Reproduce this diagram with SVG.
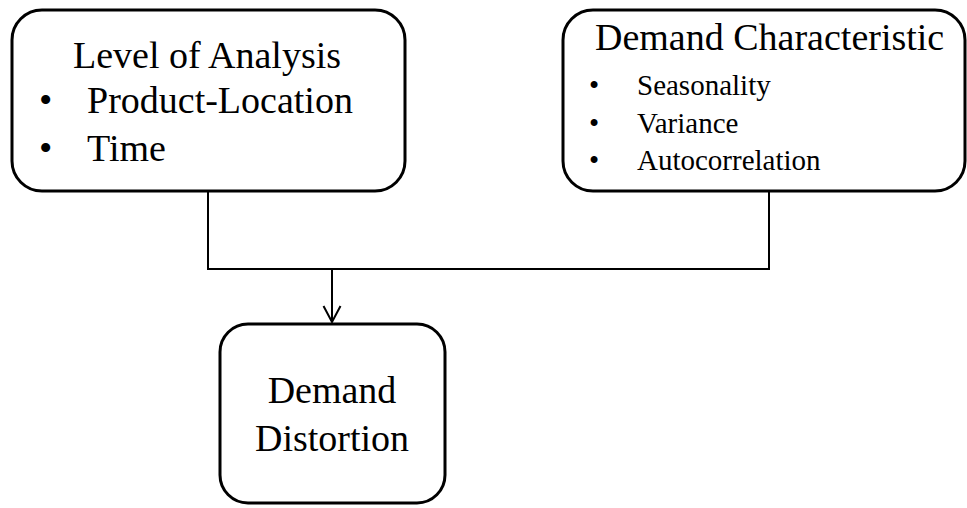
<svg xmlns="http://www.w3.org/2000/svg" width="967" height="508" viewBox="0 0 967 508">
<style>
.box{fill:#fff;stroke:#000;stroke-width:3}
.t{font-family:"Liberation Serif","Times New Roman",serif;fill:#000}
.big{font-size:38px}
.small{font-size:29px}
.conn{fill:none;stroke:#000;stroke-width:2}
</style>
<defs>
<marker id="arr" viewBox="0 0 20 20" refX="18" refY="10" markerWidth="20" markerHeight="20" markerUnits="userSpaceOnUse" orient="auto">
<path d="M2,1.5 L18,10 L2,18.5" fill="none" stroke="#000" stroke-width="2"/>
</marker>
</defs>
<rect width="967" height="508" fill="#fff"/>
<g id="connectors">
<path class="conn" d="M208,192 V269 H769 V192"/>
<path class="conn" d="M332,269 V322" marker-end="url(#arr)"/>
</g>
<g id="level-of-analysis">
<rect class="box" x="12" y="10" width="393" height="181" rx="30" ry="30"/>
<text class="t big" x="73" y="68">Level of Analysis</text>
<text class="t big" x="39" y="113">•</text>
<text class="t big" x="87" y="113">Product-Location</text>
<text class="t big" x="39" y="161">•</text>
<text class="t big" x="87" y="161">Time</text>
</g>
<g id="demand-characteristic">
<rect class="box" x="563" y="10" width="402" height="181" rx="30" ry="30"/>
<text class="t big" x="595" y="50">Demand Characteristic</text>
<text class="t small" x="589" y="95">•</text>
<text class="t small" x="637" y="95">Seasonality</text>
<text class="t small" x="589" y="133">•</text>
<text class="t small" x="637" y="133">Variance</text>
<text class="t small" x="589" y="170">•</text>
<text class="t small" x="637" y="170">Autocorrelation</text>
</g>
<g id="demand-distortion">
<rect class="box" x="220" y="324" width="225" height="179" rx="28" ry="28"/>
<text class="t big" x="332" y="403" text-anchor="middle">Demand</text>
<text class="t big" x="332" y="451" text-anchor="middle">Distortion</text>
</g>
</svg>
